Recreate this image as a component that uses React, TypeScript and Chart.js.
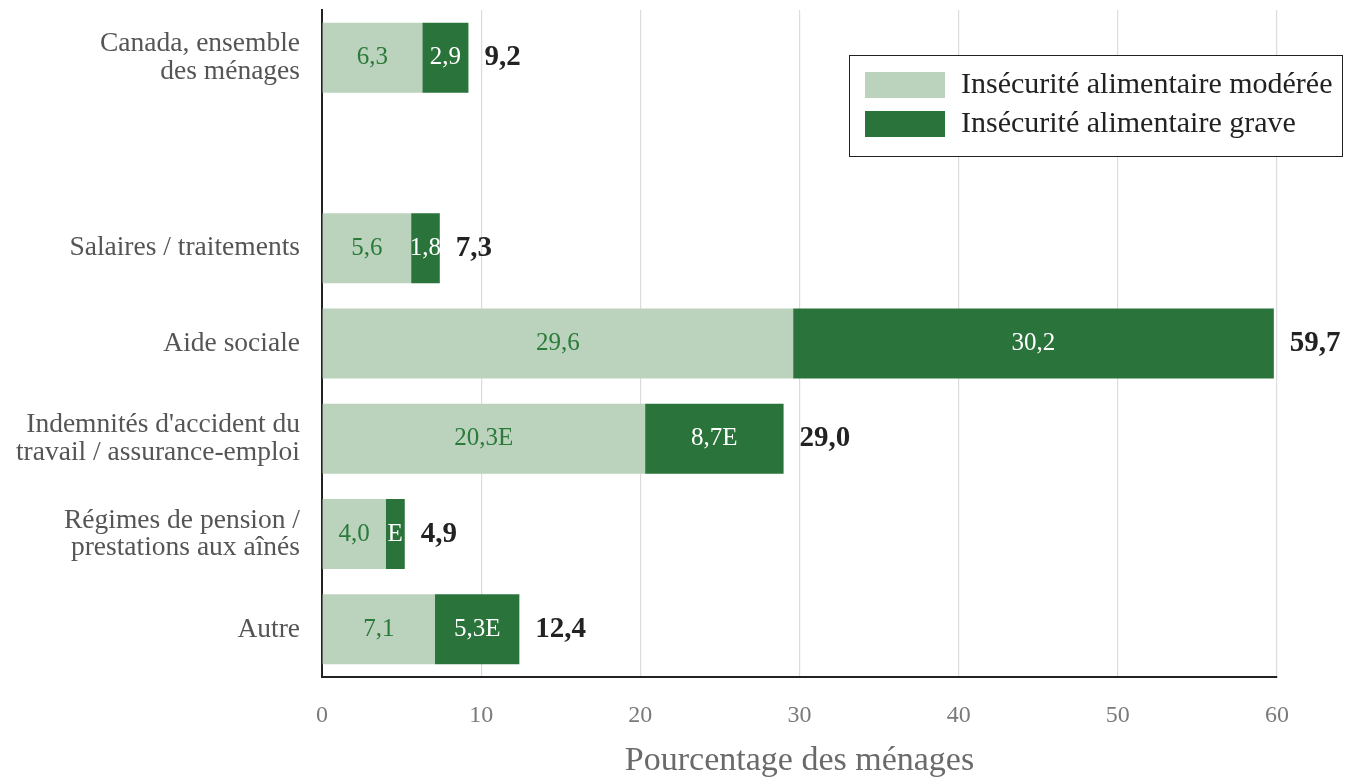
import React, { useEffect, useRef } from "react";
import { Chart, registerables } from "chart.js";

Chart.register(...registerables);

const categories: (string | string[])[] = [
  ["Canada, ensemble", "des ménages"],
  "",
  "Salaires / traitements",
  "Aide sociale",
  ["Indemnités d'accident du", "travail / assurance-emploi"],
  ["Régimes de pension /", "prestations aux aînés"],
  "Autre",
];
const moderateValues: (number | null)[] = [6.3, null, 5.6, 29.6, 20.3, 4.0, 7.1];
const graveValues: (number | null)[] = [2.9, null, 1.8, 30.2, 8.7, 1.2, 5.3];
const moderateLabels: string[] = ["6,3", "", "5,6", "29,6", "20,3E", "4,0", "7,1"];
const graveLabels: string[] = ["2,9", "", "1,8", "30,2", "8,7E", "E", "5,3E"];
const totalLabels: string[] = ["9,2", "", "7,3", "59,7", "29,0", "4,9", "12,4"];
const seriesNames = ["Insécurité alimentaire modérée", "Insécurité alimentaire grave"];
const xTicks = [0, 10, 20, 30, 40, 50, 60];

const LIGHT = "#bbd2bd";
const DARK = "#2a733a";
const FONT = "'Liberation Serif', 'DejaVu Serif', serif";

const labelsPlugin = {
  id: "barLabels",
  afterDatasetsDraw(chart: any) {
    const ctx = chart.ctx;
    ctx.save();
    ctx.textBaseline = "middle";
    const m = chart.getDatasetMeta(0);
    const g = chart.getDatasetMeta(1);
    categories.forEach((_, i) => {
      const mb = m.data[i] as any;
      const gb = g.data[i] as any;
      if (moderateValues[i] == null) return;
      ctx.font = `25px ${FONT}`;
      ctx.textAlign = "center";
      ctx.fillStyle = "#2a7a3a";
      ctx.fillText(moderateLabels[i], (mb.base + mb.x) / 2, mb.y);
      ctx.fillStyle = "#ffffff";
      ctx.fillText(graveLabels[i], (gb.base + gb.x) / 2, gb.y);
      ctx.font = `bold 29px ${FONT}`;
      ctx.textAlign = "left";
      ctx.fillStyle = "#222222";
      ctx.fillText(totalLabels[i], gb.x + 16, gb.y);
    });
    ctx.restore();
  },
  afterDraw(chart: any) {
    const ctx = chart.ctx;
    ctx.save();
    const bx = 849.5, by = 55.5, bw = 493, bh = 101;
    ctx.fillStyle = "#ffffff";
    ctx.fillRect(bx, by, bw, bh);
    ctx.strokeStyle = "#222222";
    ctx.lineWidth = 1;
    ctx.strokeRect(bx, by, bw, bh);
    const colors = [LIGHT, DARK];
    ctx.font = `30px ${FONT}`;
    ctx.textBaseline = "middle";
    ctx.textAlign = "left";
    seriesNames.forEach((name, i) => {
      const y = 72 + i * 39;
      ctx.fillStyle = colors[i];
      ctx.fillRect(865, y, 80, 26);
      ctx.fillStyle = "#222222";
      ctx.fillText(name, 961, y + 13);
    });
    ctx.restore();
  },
};

export default function App() {
  const ref = useRef<HTMLCanvasElement | null>(null);
  useEffect(() => {
    document.body.style.margin = "0";
    const chart = new Chart(ref.current as HTMLCanvasElement, {
      type: "bar",
      data: {
        labels: categories,
        datasets: [
          { label: seriesNames[0], data: moderateValues, backgroundColor: LIGHT },
          { label: seriesNames[1], data: graveValues, backgroundColor: DARK },
        ],
      },
      plugins: [labelsPlugin],
      options: {
        indexAxis: "y",
        animation: false,
        responsive: false,
        devicePixelRatio: 1,
        layout: { padding: { top: 10, right: 73, left: 0, bottom: 0 } },
        datasets: { bar: { barPercentage: 0.735, categoryPercentage: 1 } },
        plugins: { legend: { display: false }, tooltip: { enabled: false } },
        scales: {
          x: {
            stacked: true,
            min: 0,
            max: 60,
            afterBuildTicks: (scale: any) => {
              scale.ticks = xTicks.map((v) => ({ value: v }));
            },
            afterFit: (scale: any) => {
              scale.height = 104;
              scale.paddingLeft = 0;
              scale.paddingRight = 0;
            },
            grid: { color: "#dcdcdc", lineWidth: 1.2, drawTicks: false },
            border: { display: true, color: "#222222", width: 2 },
            ticks: {
              color: "#7a7a7a",
              font: { family: FONT, size: 24 },
              padding: 24,
            },
            title: {
              display: true,
              text: "Pourcentage des ménages",
              color: "#6a6a6a",
              font: { family: FONT, size: 34 },
              padding: { top: 11, bottom: 0 },
            },
          },
          y: {
            stacked: true,
            afterFit: (scale: any) => {
              scale.width = 322;
              scale.paddingTop = 0;
              scale.paddingBottom = 0;
            },
            grid: { display: false, drawTicks: false },
            border: { display: true, color: "#222222", width: 2 },
            ticks: {
              color: "#555555",
              font: { family: FONT, size: 27.5, lineHeight: 1.0 },
              padding: 22,
            },
          },
        },
      },
    });
    return () => chart.destroy();
  }, []);
  return (
    <div style={{ width: 1350, height: 781 }}>
      <canvas ref={ref} width={1350} height={781} style={{ display: "block" }} />
    </div>
  );
}
